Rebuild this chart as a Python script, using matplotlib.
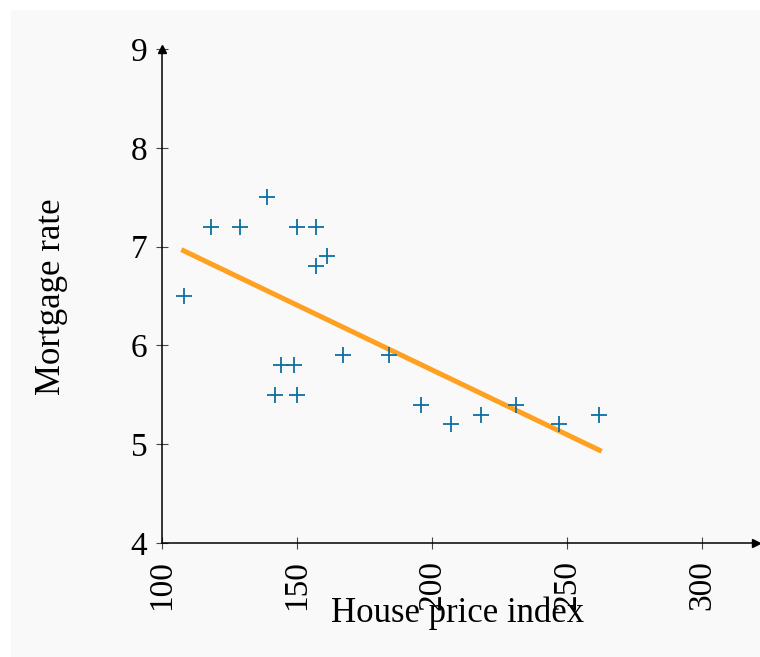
import numpy as np
import matplotlib
matplotlib.use("Agg")
import matplotlib.pyplot as plt
from matplotlib.patches import Rectangle

plt.rcParams['font.family'] = ['Liberation Serif', 'DejaVu Serif']

# house price index vs mortgage rate
house_price = [108, 118, 129, 139, 150, 157, 157, 161, 144, 149,
               142, 150, 167, 184, 196, 207, 218, 231, 247, 262]
mortgage_rate = [6.5, 7.2, 7.2, 7.5, 7.2, 7.2, 6.8, 6.9, 5.8, 5.8,
                 5.5, 5.5, 5.9, 5.9, 5.4, 5.2, 5.3, 5.4, 5.2, 5.3]
x_ticks = [100, 150, 200, 250, 300]
y_ticks = [4, 5, 6, 7, 8, 9]

fig = plt.figure(figsize=(7.6, 6.57), dpi=100)
fig.patches.append(Rectangle((11 / 760, 0), 1, 1 - 10 / 657, transform=fig.transFigure,
                             facecolor='#f9f9f9', edgecolor='none', zorder=-10))

ax = fig.add_axes([162 / 760, 1 - 543 / 657, 594 / 760, 494 / 657])
ax.set_facecolor('none')

ax.plot(house_price, mortgage_rate, linestyle='none', marker='+', markersize=11,
        markeredgewidth=1.3, color='#0f6fa0', zorder=3)

# least squares fit
slope, intercept = np.polyfit(house_price, mortgage_rate, 1)
fx = np.array([min(house_price), max(house_price)])
ax.plot(fx, slope * fx + intercept, color='#ffa020', linewidth=3.6, zorder=2)

ax.set_xlim(100, 320)
ax.set_ylim(4, 9)
ax.set_xticks(x_ticks)
ax.set_yticks(y_ticks)
ax.tick_params(axis='both', direction='inout', length=9, width=0.8, color='#444444',
               labelsize=24, pad=6)
ax.tick_params(axis='x', labelrotation=90, pad=8)

for s in ['top', 'right']:
    ax.spines[s].set_visible(False)
for s in ['left', 'bottom']:
    ax.spines[s].set_linewidth(1.1)
    ax.spines[s].set_color('black')

# arrow heads on the axes
ax.plot(1, 0, marker='>', markersize=6, color='black', transform=ax.transAxes, clip_on=False)
ax.plot(0, 1, marker='^', markersize=6, color='black', transform=ax.transAxes, clip_on=False)

fig.text(458 / 760, 1 - 613 / 657, 'House price index', fontsize=25, ha='center', va='center')
fig.text(52 / 760, 1 - 297 / 657, 'Mortgage rate', fontsize=25, ha='center', va='center',
         rotation=90)

fig.savefig('out.png', dpi=100)
